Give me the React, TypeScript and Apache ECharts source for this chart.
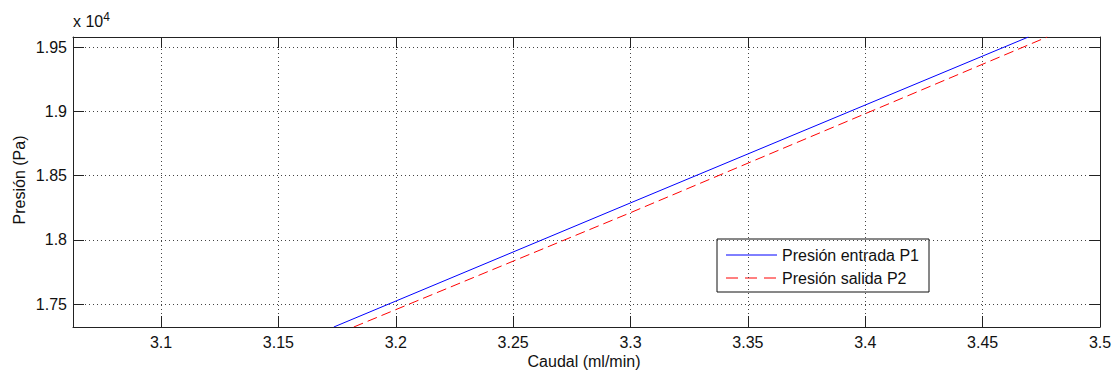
import React, { useEffect, useRef } from "react";
import * as echarts from "echarts";

const caudalP1 = [3.1736, 3.3, 3.4695];
const presionP1 = [17323, 18288, 19578];
const caudalP2 = [3.1821, 3.3, 3.4775];
const presionP2 = [17323, 18212, 19578];
const seriesNames = ["Presión entrada P1", "Presión salida P2"];
const xRange = [3.0625, 3.5];
const yRange = [17323, 19578];

const FONT = "'Liberation Sans', Arial, sans-serif";
const BLUE = "#0000ff";
const RED = "#ff0000";

export default function App() {
  const ref = useRef<HTMLDivElement>(null);
  useEffect(() => {
    if (!ref.current) return;
    const chart = echarts.init(ref.current, null, { renderer: "svg" });
    const p1 = caudalP1.map((x, i) => [x, presionP1[i]]);
    const p2 = caudalP2.map((x, i) => [x, presionP2[i]]);
    const frameLine = { show: true, lineStyle: { color: "#222", width: 1 } };
    const tick = { show: true, inside: true, length: 11, lineStyle: { color: "#222", width: 1 } };
    const grid = { show: true, lineStyle: { color: "#444", width: 1, type: [1, 3] } };
    chart.setOption({
      animation: false,
      backgroundColor: "#fff",
      textStyle: { fontFamily: FONT },
      grid: { left: 73, top: 37, right: 17, bottom: 47, containLabel: false },
      xAxis: [
        {
          type: "value",
          min: xRange[0],
          max: xRange[1],
          splitNumber: 9,
          axisLine: frameLine,
          axisTick: tick,
          splitLine: grid,
          axisLabel: {
            showMinLabel: false,
            margin: 7,
            color: "#111",
            fontSize: 16,
            fontFamily: FONT,
            formatter: (v: number) => String(+v.toFixed(4)),
          },
        },
        {
          type: "value",
          position: "top",
          min: xRange[0],
          max: xRange[1],
          splitNumber: 9,
          axisLine: frameLine,
          axisTick: tick,
          splitLine: { show: false },
          axisLabel: { show: false },
        },
      ],
      yAxis: [
        {
          type: "value",
          min: yRange[0],
          max: yRange[1],
          splitNumber: 5,
          axisLine: frameLine,
          axisTick: tick,
          splitLine: grid,
          axisLabel: {
            showMinLabel: false,
            showMaxLabel: false,
            margin: 6,
            color: "#111",
            fontSize: 16,
            fontFamily: FONT,
            formatter: (v: number) => String(+(v / 1e4).toFixed(4)),
          },
        },
        {
          type: "value",
          position: "right",
          min: yRange[0],
          max: yRange[1],
          splitNumber: 5,
          axisLine: frameLine,
          axisTick: tick,
          splitLine: { show: false },
          axisLabel: { show: false },
        },
      ],
      series: [
        {
          name: seriesNames[0],
          type: "line",
          data: p1,
          symbol: "none",
          clip: true,
          lineStyle: { color: BLUE, width: 1 },
          itemStyle: { color: BLUE },
        },
        {
          name: seriesNames[1],
          type: "line",
          data: p2,
          symbol: "none",
          clip: true,
          lineStyle: { color: RED, width: 1, type: [10, 5] },
          itemStyle: { color: RED },
        },
      ],
      graphic: [
        {
          type: "text",
          left: 73,
          top: 11,
          style: {
            text: "x 10{sup|4}",
            fontSize: 16,
            fontFamily: FONT,
            fill: "#111",
            rich: { sup: { fontSize: 12, fontFamily: FONT, fill: "#111", verticalAlign: "top", padding: [0, 0, 8, 0] } },
          },
        },
        {
          type: "text",
          x: 19,
          y: 180,
          rotation: Math.PI / 2,
          style: {
            text: "Presión (Pa)",
            fontSize: 16,
            fontFamily: FONT,
            fill: "#111",
            align: "center",
            verticalAlign: "middle",
          },
        },
        {
          type: "text",
          x: 584,
          y: 361,
          style: {
            text: "Caudal (ml/min)",
            fontSize: 16,
            fontFamily: FONT,
            fill: "#111",
            align: "center",
            verticalAlign: "middle",
          },
        },
        {
          type: "group",
          x: 717,
          y: 239,
          children: [
            {
              type: "rect",
              shape: { x: 0, y: 0, width: 212, height: 53 },
              style: { fill: "#fff", stroke: "#111", lineWidth: 1 },
            },
            {
              type: "line",
              shape: { x1: 9, y1: 16, x2: 60, y2: 16 },
              style: { stroke: BLUE, lineWidth: 1 },
            },
            {
              type: "text",
              x: 65,
              y: 16,
              style: { text: seriesNames[0], fontSize: 16, fontFamily: FONT, fill: "#111", verticalAlign: "middle" },
            },
            {
              type: "line",
              shape: { x1: 9, y1: 39, x2: 60, y2: 39 },
              style: { stroke: RED, lineWidth: 1, lineDash: [12, 7] },
            },
            {
              type: "text",
              x: 65,
              y: 39,
              style: { text: seriesNames[1], fontSize: 16, fontFamily: FONT, fill: "#111", verticalAlign: "middle" },
            },
          ],
        },
      ],
    });
    return () => chart.dispose();
  }, []);
  return (
    <div
      ref={ref}
      style={{ position: "fixed", left: 0, top: 0, width: 1117, height: 374, background: "#fff" }}
    />
  );
}
